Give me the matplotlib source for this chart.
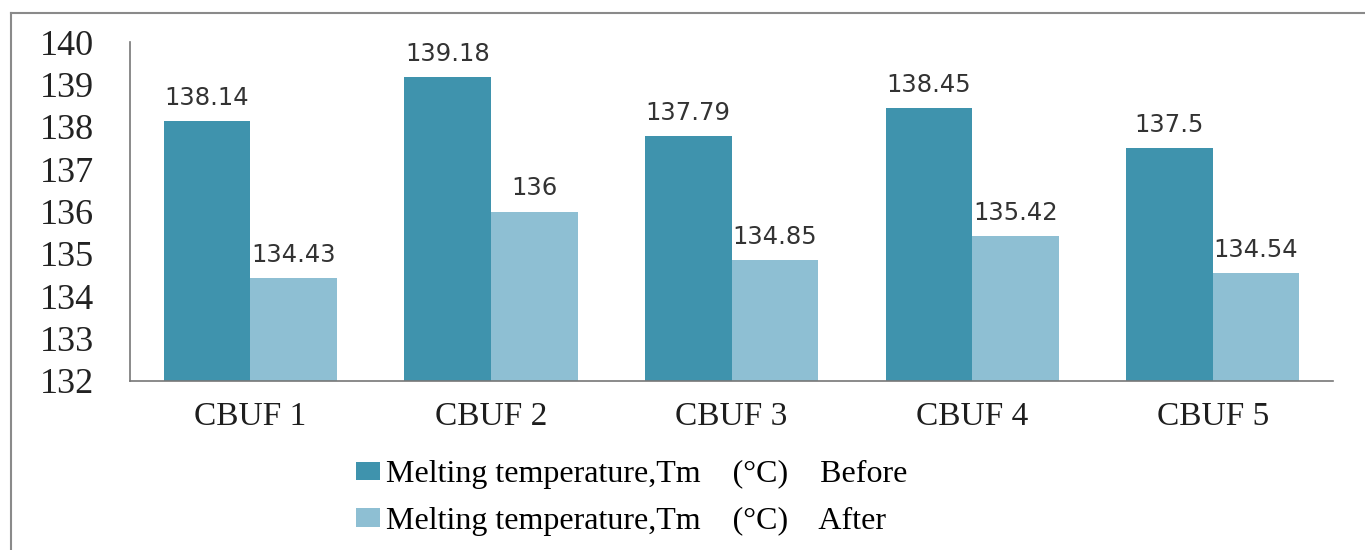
import matplotlib.pyplot as plt
from matplotlib.lines import Line2D
import numpy as np

samples = ["CBUF 1", "CBUF 2", "CBUF 3", "CBUF 4", "CBUF 5"]
tm_before = [138.14, 139.18, 137.79, 138.45, 137.5]
tm_after = [134.43, 136, 134.85, 135.42, 134.54]
yticks = [132, 133, 134, 135, 136, 137, 138, 139, 140]

gap = " " * 4
before_label = f"Melting temperature,Tm{gap}(\u00b0C){gap}Before"
after_label = f"Melting temperature,Tm{gap}(\u00b0C){gap}After"

c_before = "#3f93ad"
c_after = "#8ebfd3"

fig = plt.figure(figsize=(13.65, 5.5), dpi=100)
ax = fig.add_axes([0.0952, 0.3073, 0.8814, 0.6163])

x = np.arange(len(samples))
w = 0.36
b1 = ax.bar(x - w / 2, tm_before, w, color=c_before, label=before_label)
b2 = ax.bar(x + w / 2, tm_after, w, color=c_after, label=after_label)

for bars, vals in ((b1, tm_before), (b2, tm_after)):
    for rect, v in zip(bars, vals):
        ax.annotate(f"{v:g}", (rect.get_x() + rect.get_width() / 2, v),
                    xytext=(0, 8), textcoords="offset points",
                    ha="center", va="bottom", fontsize=17.5,
                    family="DejaVu Sans", color="#333333")

ax.set_xlim(-0.5, len(samples) - 0.5)
ax.set_ylim(132, 140)
ax.set_yticks(yticks)
ax.set_yticklabels([str(t) for t in yticks], family="Liberation Serif",
                   fontsize=26, color="#222222")
ax.set_xticks(x)
ax.set_xticklabels(samples, family="Liberation Serif", fontsize=24,
                   color="#1e1e1e")
ax.tick_params(axis="y", length=0, pad=26)
ax.tick_params(axis="x", length=0, pad=15)

for s in ("top", "right"):
    ax.spines[s].set_visible(False)
for s in ("left", "bottom"):
    ax.spines[s].set_color("#777777")
    ax.spines[s].set_linewidth(1.2)

ax.legend(loc="upper left", bbox_to_anchor=(356 / 1365, 1 - 460 / 550),
          bbox_transform=fig.transFigure, frameon=False,
          prop={"family": "Liberation Serif", "size": 23},
          handlelength=0.75, handleheight=0.5, handletextpad=0.2,
          labelspacing=0.55, borderaxespad=0, borderpad=0)

# outer frame lines
fig.add_artist(Line2D([11 / 1365, 1], [1 - 13 / 550, 1 - 13 / 550],
                      transform=fig.transFigure, color="#8a8a8a", lw=1.5))
fig.add_artist(Line2D([11 / 1365, 11 / 1365], [0, 1 - 13 / 550],
                      transform=fig.transFigure, color="#8a8a8a", lw=1.5))

fig.savefig("out.png", dpi=100)
